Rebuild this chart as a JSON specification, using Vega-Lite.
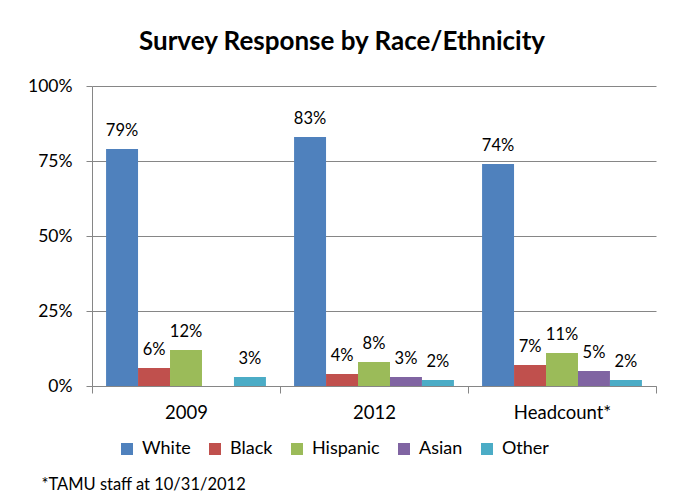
{
  "$schema": "https://vega.github.io/schema/vega-lite/v6.json",
  "width": 564,
  "height": 300,
  "autosize": "none",
  "padding": {"left": 92, "top": 86, "right": 28, "bottom": 118},
  "background": "white",
  "title": {
    "text": "Survey Response by Race/Ethnicity",
    "font": "Lato",
    "fontSize": 26,
    "fontWeight": "bold",
    "color": "#000000",
    "anchor": "middle",
    "dx": -32,
    "offset": 22
  },
  "data": {
    "values": [
      {"group": "2009", "race": "White", "value": 0.79},
      {"group": "2009", "race": "Black", "value": 0.06},
      {"group": "2009", "race": "Hispanic", "value": 0.12},
      {"group": "2009", "race": "Other", "value": 0.03},
      {"group": "2012", "race": "White", "value": 0.83},
      {"group": "2012", "race": "Black", "value": 0.04},
      {"group": "2012", "race": "Hispanic", "value": 0.08},
      {"group": "2012", "race": "Asian", "value": 0.03},
      {"group": "2012", "race": "Other", "value": 0.02},
      {"group": "Headcount*", "race": "White", "value": 0.74},
      {"group": "Headcount*", "race": "Black", "value": 0.07},
      {"group": "Headcount*", "race": "Hispanic", "value": 0.11},
      {"group": "Headcount*", "race": "Asian", "value": 0.05},
      {"group": "Headcount*", "race": "Other", "value": 0.02}
    ]
  },
  "encoding": {
    "x": {
      "field": "group",
      "type": "nominal",
      "sort": ["2009", "2012", "Headcount*"],
      "scale": {"paddingInner": 0, "paddingOuter": 0},
      "axis": {
        "title": "*TAMU staff at 10/31/2012",
        "titleFont": "Lato",
        "titleFontSize": 16.5,
        "titleFontWeight": "normal",
        "titleColor": "#000000",
        "titleAnchor": "start",
        "titleAlign": "left",
        "titleBaseline": "middle",
        "titleX": -51,
        "titleY": 98,
        "labelAngle": 0,
        "labelFont": "Lato",
        "labelFontSize": 18.5,
        "labelColor": "#000000",
        "labelPadding": 10,
        "tickBand": "extent",
        "tickSize": 7,
        "tickColor": "#868686",
        "domainColor": "#868686",
        "grid": false
      }
    },
    "xOffset": {
      "field": "race",
      "type": "nominal",
      "sort": ["White", "Black", "Hispanic", "Asian", "Other"],
      "scale": {"domain": ["White", "Black", "Hispanic", "Asian", "Other"], "paddingInner": 0, "paddingOuter": 0.44}
    },
    "y": {
      "field": "value",
      "type": "quantitative",
      "scale": {"domain": [0, 1], "nice": false},
      "axis": {
        "title": null,
        "values": [0, 0.25, 0.5, 0.75, 1],
        "format": ".0%",
        "labelFont": "Lato",
        "labelFontSize": 17.5,
        "labelColor": "#000000",
        "labelPadding": 14,
        "tickSize": 6,
        "tickColor": "#868686",
        "domainColor": "#868686",
        "gridColor": "#868686",
        "grid": true
      }
    }
  },
  "layer": [
    {
      "mark": {"type": "bar"},
      "encoding": {
        "color": {
          "field": "race",
          "type": "nominal",
          "scale": {
            "domain": ["White", "Black", "Hispanic", "Asian", "Other"],
            "range": ["#4F81BD", "#C0504D", "#9BBB59", "#8064A2", "#4BACC6"]
          },
          "legend": {
            "title": null,
            "orient": "none",
            "direction": "horizontal",
            "legendX": 26,
            "legendY": 354,
            "symbolType": "square",
            "symbolSize": 144,
            "symbolStrokeWidth": 0,
            "labelFont": "Lato",
            "labelFontSize": 18,
            "labelColor": "#000000",
            "labelOffset": 6,
            "columnPadding": 15
          }
        }
      }
    },
    {
      "mark": {"type": "text", "baseline": "bottom", "dy": -10, "font": "Lato", "fontSize": 16.5, "color": "#000000"},
      "encoding": {
        "text": {"field": "value", "type": "quantitative", "format": ".0%"}
      }
    }
  ],
  "config": {
    "view": {"stroke": null}
  }
}
